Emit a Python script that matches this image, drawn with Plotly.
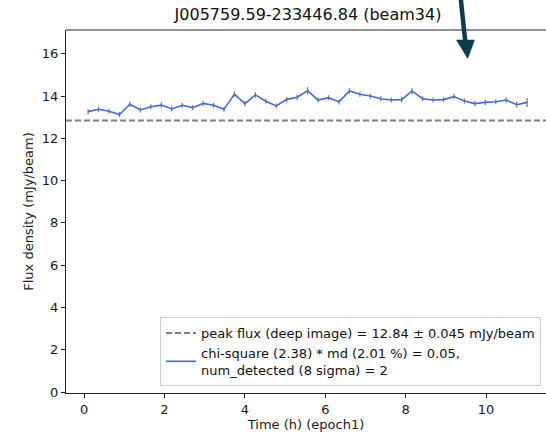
import plotly.graph_objects as go

# ---- data ----
time_h = [0.10, 0.36, 0.62, 0.88, 1.14, 1.40, 1.66, 1.92, 2.18, 2.44, 2.70,
          2.96, 3.22, 3.48, 3.74, 4.00, 4.26, 4.52, 4.78, 5.04, 5.30, 5.56,
          5.82, 6.08, 6.34, 6.60, 6.86, 7.12, 7.38, 7.64, 7.90, 8.16, 8.42,
          8.68, 8.94, 9.20, 9.46, 9.72, 9.98, 10.24, 10.50, 10.76, 11.02]
flux = [13.26, 13.37, 13.28, 13.12, 13.61, 13.34, 13.49, 13.57, 13.39, 13.56,
        13.45, 13.65, 13.56, 13.37, 14.09, 13.64, 14.05, 13.75, 13.53, 13.84,
        13.94, 14.25, 13.81, 13.92, 13.72, 14.24, 14.08, 14.00, 13.87, 13.81,
        13.83, 14.24, 13.87, 13.81, 13.83, 13.97, 13.76, 13.64, 13.70, 13.73,
        13.81, 13.59, 13.70]
flux_err = [0.13, 0.13, 0.12, 0.12, 0.13, 0.12, 0.12, 0.13, 0.12, 0.12,
            0.12, 0.12, 0.12, 0.12, 0.13, 0.12, 0.13, 0.12, 0.12, 0.13,
            0.13, 0.17, 0.12, 0.12, 0.12, 0.13, 0.12, 0.12, 0.12, 0.12,
            0.12, 0.15, 0.12, 0.12, 0.12, 0.12, 0.12, 0.12, 0.12, 0.12,
            0.13, 0.15, 0.22]
peak_flux = 12.84

title_text = "J005759.59-233446.84 (beam34)"
xlabel = "Time (h) (epoch1)"
ylabel = "Flux density (mJy/beam)"
peak_label = "peak flux (deep image) = 12.84 ± 0.045 mJy/beam"
curve_label = "chi-square (2.38) * md (2.01 %) = 0.05,<br>num_detected (8 sigma) = 2"
x_ticks = [0, 2, 4, 6, 8, 10]
y_ticks = [0, 2, 4, 6, 8, 10, 12, 14, 16]

W, H = 546, 433
L, R, T, B = 66, 0, 30, 40
pw, ph = W - L - R, H - T - B

def px(x):
    return (x - L) / pw

def py(y):
    return (H - B - y) / ph

fig = go.Figure()
fig.add_trace(go.Scatter(
    x=[-0.45, 11.49], y=[peak_flux, peak_flux], mode="lines",
    line=dict(color="#7f7f7f", width=2, dash="6px,3px"),
    name=peak_label, hoverinfo="skip"))
fig.add_trace(go.Scatter(
    x=time_h, y=flux, mode="lines",
    line=dict(color="#4169e1", width=1.6),
    error_y=dict(type="data", array=flux_err, color="#808080", thickness=1.3, width=0),
    name=curve_label))

font = "DejaVu Sans, Liberation Sans, sans-serif"
fig.update_layout(
    width=W, height=H,
    margin=dict(l=L, r=R, t=T, b=B),
    paper_bgcolor="white", plot_bgcolor="white",
    font=dict(family=font, size=13, color="#1a1a1a"),
    title=dict(text=title_text, x=308 / W, xref="container", xanchor="center",
               y=1 - 14 / H, yref="container", yanchor="middle",
               font=dict(size=16, color="#111")),
    showlegend=True,
    legend=dict(x=px(541), xanchor="right", y=py(386), yanchor="bottom",
                bgcolor="rgba(255,255,255,0.9)", bordercolor="#cccccc", borderwidth=1,
                font=dict(size=13, color="#111"), tracegroupgap=2,
                itemwidth=30),
    xaxis=dict(range=[-0.45, 11.49], tickvals=x_ticks, showgrid=False, zeroline=False,
               showline=True, linecolor="#222", linewidth=1,
               ticks="outside", ticklen=4, tickcolor="#222",
               tickfont=dict(size=13),
               title=dict(text=xlabel, standoff=3, font=dict(size=13))),
    yaxis=dict(range=[-0.04, 17.12], tickvals=y_ticks, showgrid=False, zeroline=False,
               showline=True, linecolor="#222", linewidth=1,
               ticks="outside", ticklen=4, tickcolor="#222",
               tickfont=dict(size=13),
               title=dict(text=ylabel, standoff=5, font=dict(size=13))),
)

# top spine
fig.add_shape(type="line", xref="paper", yref="paper", x0=0, x1=1, y0=1, y1=1,
              line=dict(color="#222", width=1))

# dark arrow overlay at the top right
arrow_col = "#0a3d4a"
fig.add_shape(type="line", xref="paper", yref="paper",
              x0=px(460.7), y0=py(-2), x1=px(465.3), y1=py(42),
              line=dict(color=arrow_col, width=4.5))
fig.add_shape(type="path", xref="paper", yref="paper",
              path=f"M {px(456.5)} {py(40)} L {px(474.5)} {py(40)} L {px(467.7)} {py(58.5)} Z",
              fillcolor=arrow_col, line=dict(color=arrow_col, width=0.5))

fig.write_html("out.html")
